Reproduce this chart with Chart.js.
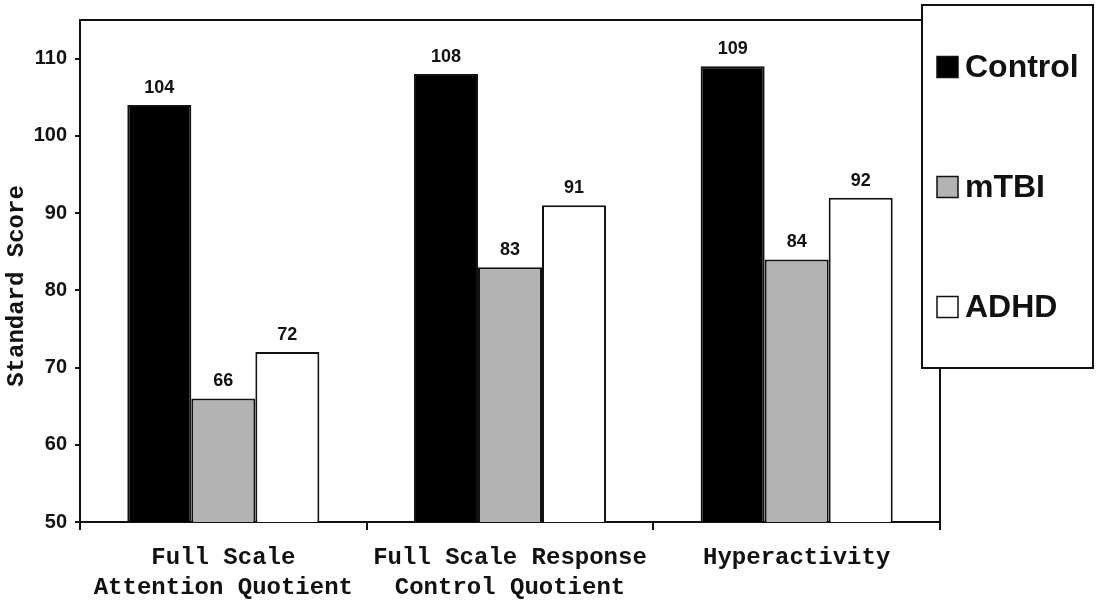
<!DOCTYPE html>
<html><head><meta charset="utf-8">
<script src="https://cdn.jsdelivr.net/npm/chart.js@4.4.0/dist/chart.umd.min.js"></script>
<style>html,body{margin:0;padding:0;background:#fff;overflow:hidden}</style>
</head><body>
<canvas id="c" width="1096" height="601" style="width:1096px;height:601px;display:block"></canvas>
<script>
const categories = [["Full Scale","Attention Quotient"],["Full Scale Response","Control Quotient"],["Hyperactivity"]];
const seriesNames = ["Control","mTBI","ADHD"];
const controlValues = [104,108,109];
const mtbiValues = [66,83,84];
const adhdValues = [72,91,92];
const yTicks = [50,60,70,80,90,100,110];
const yTitle = "Standard Score";
const seriesColors = ["#000000","#b3b3b3","#ffffff"];

const INK = '#111';
const MONO = "'Courier New','Liberation Mono',monospace";
const SANS = "Arial,'Liberation Sans',sans-serif";

const framePlugin = {
  id:'frame',
  beforeDatasetsDraw(chart){
    const a = chart.chartArea, ctx = chart.ctx;
    ctx.save(); ctx.strokeStyle = INK; ctx.lineWidth = 2;
    ctx.strokeRect(a.left, a.top, a.right-a.left, a.bottom-a.top);
    ctx.restore();
  }
};
const valueLabels = {
  id:'valueLabels',
  afterDatasetsDraw(chart){
    const ctx = chart.ctx;
    ctx.save();
    ctx.font = "bold 18px " + SANS; ctx.fillStyle = INK;
    ctx.textAlign = 'center'; ctx.textBaseline = 'alphabetic';
    chart.data.datasets.forEach((ds,i)=>{
      chart.getDatasetMeta(i).data.forEach((el,j)=>{
        ctx.fillText(String(ds.data[j]), el.x, el.y - 12);
      });
    });
    ctx.restore();
  }
};
const boxLegend = {
  id:'boxLegend',
  afterDraw(chart){
    const ctx = chart.ctx;
    ctx.save();
    ctx.fillStyle = '#fff'; ctx.strokeStyle = INK; ctx.lineWidth = 2;
    ctx.fillRect(922,5,171,363); ctx.strokeRect(922,5,171,363);
    ctx.font = "bold 32px " + SANS; ctx.textBaseline = 'middle'; ctx.textAlign='left';
    chart.data.datasets.forEach((ds,i)=>{
      const cy = 67 + i*120;
      ctx.fillStyle = ds.backgroundColor; ctx.lineWidth = 1.5;
      ctx.fillRect(937, cy-10.5, 21, 21); ctx.strokeRect(937, cy-10.5, 21, 21);
      ctx.fillStyle = INK;
      ctx.fillText(ds.label, 965, cy+1);
    });
    ctx.restore();
  }
};
const yTitlePlugin = {
  id:'yTitle',
  afterDraw(chart){
    const ctx = chart.ctx;
    ctx.save();
    ctx.translate(17, 286); ctx.rotate(-Math.PI/2);
    ctx.font = "bold 24px " + MONO; ctx.fillStyle = INK;
    ctx.textAlign='center'; ctx.textBaseline='middle';
    ctx.fillText(yTitle, 0, 0);
    ctx.restore();
  }
};

new Chart(document.getElementById('c'), {
  type:'bar',
  data:{
    labels: categories,
    datasets:[
      {label:seriesNames[0], data:controlValues, backgroundColor:seriesColors[0]},
      {label:seriesNames[1], data:mtbiValues, backgroundColor:seriesColors[1]},
      {label:seriesNames[2], data:adhdValues, backgroundColor:seriesColors[2]}
    ].map(d=>Object.assign(d,{borderColor:INK,borderWidth:2,categoryPercentage:0.67,barPercentage:1.0}))
  },
  options:{
    responsive:false, animation:false, devicePixelRatio:1,
    layout:{padding:{top:19,right:156,left:0,bottom:0}},
    plugins:{legend:{display:false}, tooltip:{enabled:false}, title:{display:false}},
    scales:{
      x:{
        grid:{offset:true, drawOnChartArea:false, tickLength:8, color:INK, lineWidth:2},
        border:{color:INK, width:2},
        ticks:{font:{family:MONO,size:24,weight:'bold',lineHeight:1.29}, color:INK, padding:12, maxRotation:0, autoSkip:false},
        afterFit(s){ s.height = 79; }
      },
      y:{
        min:50, max:115,
        afterBuildTicks(s){ s.ticks = yTicks.map(v=>({value:v})); },
        grid:{drawOnChartArea:false, tickLength:5, color:INK, lineWidth:2},
        border:{color:INK, width:2},
        ticks:{font:{family:SANS,size:20,weight:'bold'}, color:INK, padding:8},
        afterFit(s){ s.width = 80; }
      }
    }
  },
  plugins:[framePlugin, valueLabels, boxLegend, yTitlePlugin]
});
</script>
</body></html>
